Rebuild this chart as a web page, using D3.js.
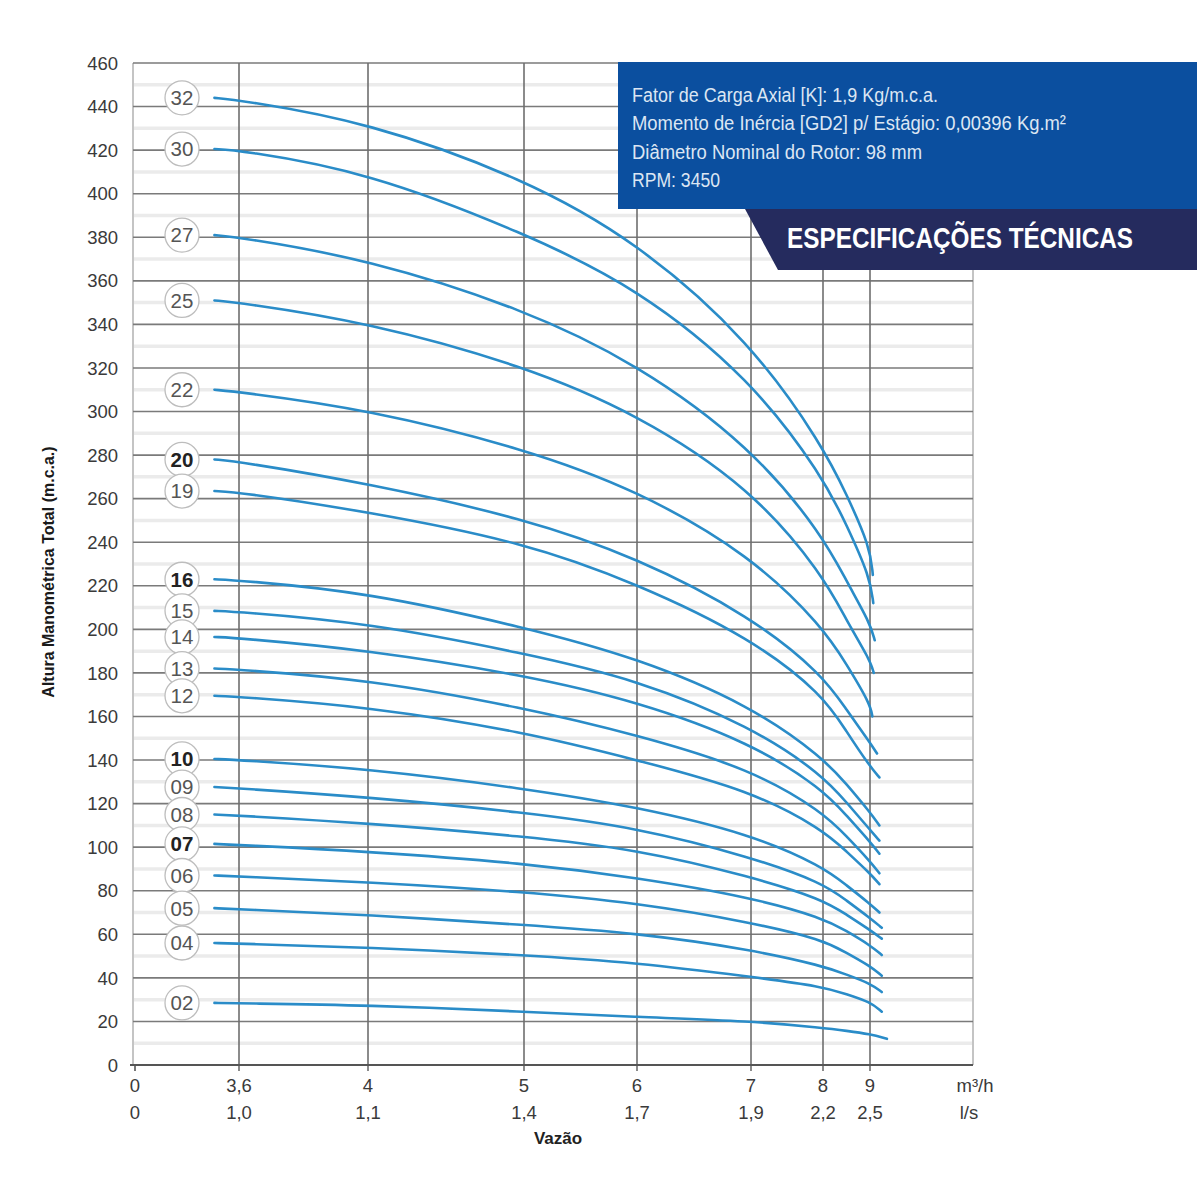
<!DOCTYPE html>
<html lang="pt">
<head>
<meta charset="utf-8">
<title>Curvas de desempenho</title>
<script src="https://d3js.org/d3.v7.min.js"></script>
<style>
  body { margin: 0; background: #fff; }
  text { font-family: "Liberation Sans", Arial, sans-serif; }
</style>
</head>
<body>
<script>
// stage count of each curve, top to bottom
const stages = ["32","30","27","25","22","20","19","16","15","14","13","12","10","09","08","07","06","05","04","02"];
const boldStages = ["20","16","10","07"];

const flowGrid = [2.75, 3.6, 4, 5, 6, 7, 8, 8.5, 9];
const heads = [
  [444, 443, 433, 407, 378, 332, 284, 262, 238],
  [420.5, 420, 410, 382, 357, 315, 270, 248, 224],
  [381, 380, 370, 347, 322, 284, 243, 222, 203],
  [351, 350, 341, 321, 299, 265, 225, 204, 186],
  [310, 309, 301, 283, 264, 234, 201, 184, 166],
  [278, 277, 267, 251, 233, 206, 179, 163, 148],
  [263.5, 263, 254, 240, 221, 196, 170, 153, 137],
  [223, 222.5, 217, 201, 187, 165, 141, 129, 116],
  [208.5, 208, 203, 189, 177, 155.5, 133, 120.5, 108],
  [196.5, 196, 190.5, 179, 167, 148, 126.5, 114.5, 102.5],
  [182, 181.5, 177, 164, 151.5, 136, 116, 105, 93.5],
  [169.5, 169, 164.5, 153, 140, 126, 108, 98, 88],
  [140.5, 140, 136, 127, 118.5, 106, 91, 82.5, 74],
  [127.6, 127, 123, 116, 109, 95.5, 83.5, 75.5, 67.5],
  [115, 114.5, 111, 105, 99, 86.5, 76, 69, 62],
  [101.5, 101, 98, 92.7, 86, 77, 67.5, 61.5, 55],
  [87, 86.5, 84, 79.5, 74.4, 65.5, 57.5, 51.5, 45.5],
  [72, 71.5, 69, 64.3, 60.6, 53, 45.5, 41.5, 37.5],
  [56, 55.7, 54, 50.5, 47, 40.5, 36, 32.5, 29],
  [28.5, 28.3, 27.5, 24.5, 22, 20.2, 17, 15.7, 14.2]
];
// last point of every curve
const endFlow = [9.06, 9.07, 9.1, 9.08, 9.05, 9.15, 9.2, 9.2, 9.2, 9.2, 9.2, 9.2, 9.2, 9.25, 9.25, 9.25, 9.25, 9.25, 9.25, 9.36];
const endHead = [225, 212, 195, 180, 160, 143, 132, 110, 103, 97, 88, 83, 70, 63, 58, 50.5, 41, 33.5, 24.5, 12];

// axis ticks
const flowTicks = [0, 3.6, 4, 5, 6, 7, 8, 9];
const flowTickLabels = ["0", "3,6", "4", "5", "6", "7", "8", "9"];
const lpsTickLabels = ["0", "1,0", "1,1", "1,4", "1,7", "1,9", "2,2", "2,5"];
const headTicks = d3.range(0, 461, 20);
const headMinor = d3.range(10, 460, 20);

const specLines = [
  "Fator de Carga Axial [K]: 1,9 Kg/m.c.a.",
  "Momento de Inércia [GD2] p/ Estágio: 0,00396 Kg.m²",
  "Diâmetro Nominal do Rotor: 98 mm",
  "RPM: 3450"
];
const specWidths = [306, 434, 290, 88];

const W = 1200, H = 1200;
const pLeft = 133, pRight = 973, pTop = 63, pBottom = 1065;

const svg = d3.select("body").append("svg")
  .attr("width", W).attr("height", H);

// the printed flow axis is not uniform, so a piecewise scale follows its tick spacing
const x = d3.scaleLinear()
  .domain(flowTicks)
  .range([135, 239, 368, 524, 637, 751, 823, 870]);
const y = d3.scaleLinear().domain([0, 460]).range([pBottom, pTop]);

const grid = svg.append("g");

grid.selectAll("line.minor")
  .data(headMinor).enter().append("line")
  .attr("class", "minor")
  .attr("x1", pLeft).attr("x2", pRight)
  .attr("y1", d => y(d)).attr("y2", d => y(d))
  .attr("stroke", "#ebebeb").attr("stroke-width", 3.5);

grid.append("line")
  .attr("x1", pLeft).attr("x2", pLeft).attr("y1", pTop).attr("y2", pBottom)
  .attr("stroke", "#c4c4c4").attr("stroke-width", 2);
grid.append("line")
  .attr("x1", pRight).attr("x2", pRight).attr("y1", pTop).attr("y2", pBottom)
  .attr("stroke", "#c4c4c4").attr("stroke-width", 2);

grid.selectAll("line.major")
  .data(headTicks.filter(d => d > 0)).enter().append("line")
  .attr("class", "major")
  .attr("x1", pLeft).attr("x2", pRight)
  .attr("y1", d => y(d)).attr("y2", d => y(d))
  .attr("stroke", "#7a7a7a").attr("stroke-width", 1.6);

grid.selectAll("line.vert")
  .data(flowTicks.slice(1)).enter().append("line")
  .attr("class", "vert")
  .attr("x1", d => x(d)).attr("x2", d => x(d))
  .attr("y1", pTop).attr("y2", pBottom + 6)
  .attr("stroke", "#6e6e6e").attr("stroke-width", 1.6);

// bottom axis line with ticks
grid.append("line")
  .attr("x1", pLeft - 3).attr("x2", pRight).attr("y1", pBottom).attr("y2", pBottom)
  .attr("stroke", "#555").attr("stroke-width", 2.2);
grid.append("line")
  .attr("x1", x(0)).attr("x2", x(0)).attr("y1", pBottom).attr("y2", pBottom + 6)
  .attr("stroke", "#555").attr("stroke-width", 1.6);

// y tick labels
svg.append("g").selectAll("text")
  .data(headTicks).enter().append("text")
  .attr("x", 118).attr("y", d => y(d))
  .attr("dy", "0.36em")
  .attr("text-anchor", "end")
  .attr("font-size", 18.5)
  .attr("fill", "#3a3a3a")
  .text(d => d);

// x tick labels, two rows
const xl = svg.append("g").attr("font-size", 18.5).attr("fill", "#3a3a3a").attr("text-anchor", "middle");
xl.selectAll("text.m3h")
  .data(flowTicks).enter().append("text")
  .attr("class", "m3h")
  .attr("x", d => x(d)).attr("y", 1092)
  .text((d, i) => flowTickLabels[i]);
xl.selectAll("text.lps")
  .data(flowTicks).enter().append("text")
  .attr("class", "lps")
  .attr("x", d => x(d)).attr("y", 1119)
  .text((d, i) => lpsTickLabels[i]);
xl.append("text").attr("x", 975).attr("y", 1092).text("m³/h");
xl.append("text").attr("x", 969).attr("y", 1119).text("l/s");

svg.append("text")
  .attr("x", 558).attr("y", 1144)
  .attr("text-anchor", "middle")
  .attr("font-size", 17).attr("font-weight", "bold").attr("fill", "#222")
  .text("Vazão");

svg.append("text")
  .attr("transform", "translate(54,572) rotate(-90)")
  .attr("text-anchor", "middle")
  .attr("font-size", 16).attr("font-weight", "bold").attr("fill", "#1a1a1a")
  .text("Altura Manométrica Total (m.c.a.)");

// stage labels in circles
const labels = svg.append("g").selectAll("g")
  .data(stages).enter().append("g")
  .attr("transform", (d, i) => `translate(182,${y(heads[i][0])})`);
labels.append("circle")
  .attr("r", 17)
  .attr("fill", "#fff")
  .attr("stroke", "#bdbdbd").attr("stroke-width", 1.3);
labels.append("text")
  .attr("text-anchor", "middle").attr("dy", "0.36em")
  .attr("font-size", 20.5)
  .attr("font-weight", d => boldStages.includes(d) ? "bold" : "normal")
  .attr("fill", d => boldStages.includes(d) ? "#222" : "#555")
  .text(d => d);

// pump curves
const line = d3.line()
  .x(d => x(d[0]))
  .y(d => y(d[1]))
  .curve(d3.curveBasis);

svg.append("g").selectAll("path")
  .data(stages).enter().append("path")
  .attr("d", (d, i) => {
    const pts = flowGrid.map((f, j) => [f, heads[i][j]]);
    pts.push([endFlow[i], endHead[i]]);
    return line(pts);
  })
  .attr("fill", "none")
  .attr("stroke", "#2a8cc8")
  .attr("stroke-width", 2.6)
  .attr("stroke-linecap", "round");

// specification box
const box = svg.append("g");
box.append("rect")
  .attr("x", 618).attr("y", 62).attr("width", 579).attr("height", 147)
  .attr("fill", "#0b4f9f");
box.append("polygon")
  .attr("points", "745,209 1197,209 1197,270 778,270")
  .attr("fill", "#252b5e");
box.selectAll("text.spec")
  .data(specLines).enter().append("text")
  .attr("class", "spec")
  .attr("x", 632)
  .attr("y", (d, i) => 102 + i * 28.3)
  .attr("font-family", "Roboto, sans-serif")
  .attr("font-size", 20)
  .attr("fill", "#dce6f3")
  .attr("textLength", (d, i) => specWidths[i])
  .attr("lengthAdjust", "spacingAndGlyphs")
  .text(d => d);
box.append("text")
  .attr("x", 960).attr("y", 248)
  .attr("text-anchor", "middle")
  .attr("font-family", "Roboto, sans-serif")
  .attr("font-size", 30).attr("font-weight", "bold")
  .attr("fill", "#fff")
  .attr("textLength", 346)
  .attr("lengthAdjust", "spacingAndGlyphs")
  .text("ESPECIFICAÇÕES TÉCNICAS");
</script>
</body>
</html>
